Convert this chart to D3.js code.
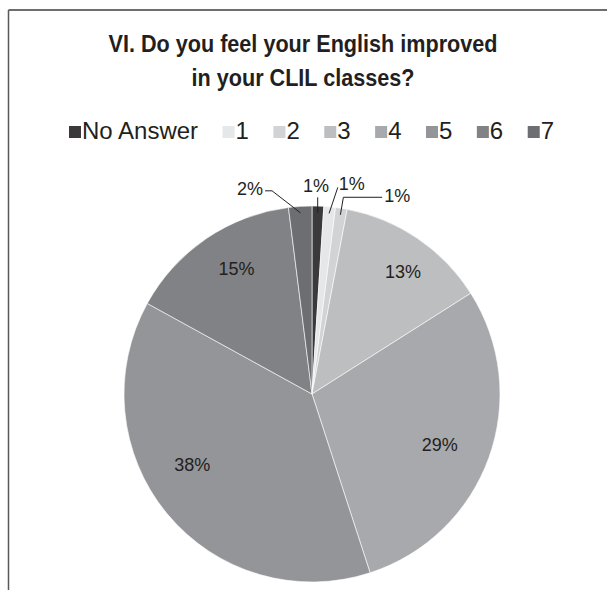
<!DOCTYPE html>
<html>
<head>
<meta charset="utf-8">
<script src="https://cdn.jsdelivr.net/npm/d3@7"></script>
<style>
  body { margin: 0; background: #fff; }
  svg { display: block; }
</style>
</head>
<body>
<svg id="svg" width="607" height="590"></svg>
<script>
// chart data
var categories = ["No Answer", "1", "2", "3", "4", "5", "6", "7"];
var percents = [1, 1, 1, 13, 29, 38, 15, 2];
var colors = ["#3b393a", "#e6e7e8", "#d1d3d4", "#bcbec0", "#a7a9ac", "#939598", "#808285", "#6d6e71"];
var titleLines = ["VI. Do you feel your English improved", "in your CLIL classes?"];

// label placement like Excel's "best fit": [angle shift in degrees, radius factor]
// radius > 1 means the label sits outside with a leader line
var labelPlace = {
  "No Answer": [-0.7, 1.11],
  "1": [5.3, 1.14],
  "2": [14.2, 1.15],
  "3": [2.5, 0.81],
  "4": [1.7, 0.73],
  "5": [9, 0.74],
  "6": [3.2, 0.78],
  "7": [-13.2, 1.14]
};

var W = 607, H = 590;
var cx = 312, cy = 394, r = 188;
var textColor = "#231f20";

var svg = d3.select("#svg");

// frame (only top and left edges are visible)
svg.append("line").attr("x1", 8.5).attr("y1", 10).attr("x2", W).attr("y2", 10)
  .attr("stroke", "#6d6e71").attr("stroke-width", 2);
svg.append("line").attr("x1", 8.5).attr("y1", 10).attr("x2", 8.5).attr("y2", H)
  .attr("stroke", "#58595b").attr("stroke-width", 1.5);

// title - condensed look, squeezed horizontally around the centre
svg.append("g")
  .attr("transform", "translate(303,0) scale(0.94,1)")
  .selectAll("text")
  .data(titleLines)
  .join("text")
    .attr("x", 0)
    .attr("y", (d, i) => 52 + i * 34)
    .attr("text-anchor", "middle")
    .attr("font-family", "'Liberation Sans', Arial, sans-serif")
    .attr("font-weight", "bold")
    .attr("font-size", 23)
    .attr("fill", textColor)
    .text(d => d);

// legend
var legend = svg.append("g").attr("transform", "translate(69,126)");
var lx = 0;
categories.forEach(function(c, i) {
  var item = legend.append("g").attr("transform", "translate(" + lx + ",0)");
  item.append("rect").attr("width", 12).attr("height", 12).attr("fill", colors[i]);
  var t = item.append("text")
    .attr("x", 13).attr("y", 12.5)
    .attr("font-family", "'Liberation Sans', Arial, sans-serif")
    .attr("font-size", 24)
    .attr("fill", textColor)
    .text(c);
  lx += 13 + t.node().getComputedTextLength() + 24.5;
});

// pie
var pie = d3.pie().sort(null).value(d => d.value);
var arcs = pie(categories.map((c, i) => ({cat: c, value: percents[i], color: colors[i]})));
var arc = d3.arc().innerRadius(0).outerRadius(r);

var g = svg.append("g").attr("transform", "translate(" + cx + "," + cy + ")");

g.selectAll("path")
  .data(arcs)
  .join("path")
    .attr("d", arc)
    .attr("fill", d => d.data.color)
    .attr("stroke", "#ffffff")
    .attr("stroke-width", 0.6);

function polar(angle, radius) {
  return [Math.sin(angle) * radius, -Math.cos(angle) * radius];
}

var labelFont = "'Liberation Sans', Arial, sans-serif";

arcs.forEach(function(d) {
  var mid = (d.startAngle + d.endAngle) / 2;
  var place = labelPlace[d.data.cat];
  var la = mid + place[0] * Math.PI / 180;
  var lp = polar(la, r * place[1]);
  g.append("text")
    .attr("x", lp[0]).attr("y", lp[1])
    .attr("dy", "0.35em")
    .attr("text-anchor", "middle")
    .attr("font-family", labelFont)
    .attr("font-size", 18)
    .attr("fill", textColor)
    .text(d.data.value + "%");

  if (place[1] > 1) {
    // leader line from the label to the slice
    var ep = polar(mid, r * 0.965);
    var dx = ep[0] - lp[0];
    var pts;
    if (Math.abs(dx) < 10) {
      pts = [[ep[0], lp[1] + 12], ep];
    } else if (Math.abs(dx) < 35) {
      pts = [[lp[0] + Math.sign(dx) * 14, lp[1] + 4], ep];
    } else {
      var s = [lp[0] + Math.sign(dx) * 15, lp[1] + 2];
      var elbow = dx < 0 ? [ep[0] + 3, s[1]] : [s[0] + 7, s[1]];
      pts = [s, elbow, ep];
    }
    g.append("path")
      .attr("d", d3.line()(pts))
      .attr("fill", "none")
      .attr("stroke", "#231f20")
      .attr("stroke-width", 1);
  }
});
</script>
</body>
</html>
